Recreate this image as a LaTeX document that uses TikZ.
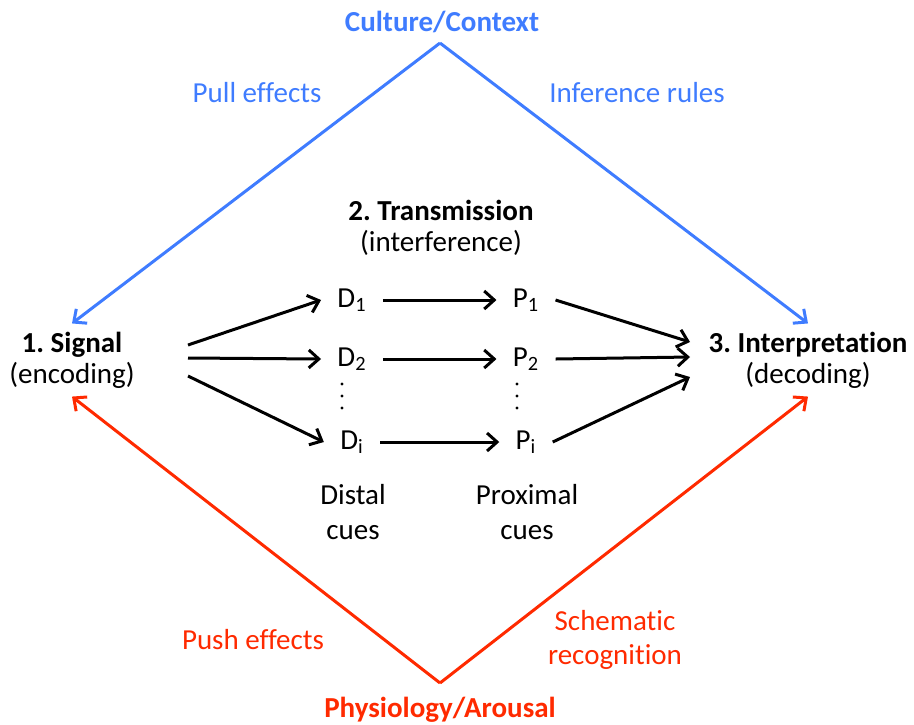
\documentclass[tikz,border=0pt]{standalone}
\usepackage{fontspec}
\setmainfont{Carlito}[Ligatures=NoCommon]
\usetikzlibrary{positioning,arrows.meta,calc}
\definecolor{CtxBlue}{HTML}{3F7CFF}
\definecolor{PhyRed}{HTML}{FF2A00}
\frenchspacing

\begin{document}
\begin{tikzpicture}[
    x=0.5pt, y=-0.5pt,
    font=\fontsize{14.5}{15.5}\selectfont,
    stage/.style={
      align=center,
      inner sep=4pt
    },
    cue/.style={
      inner xsep=8pt,
      inner ysep=1pt
    },
    ctxlabel/.style={
      text=CtxBlue
    },
    phylabel/.style={
      text=PhyRed,
      align=center,
      font=\fontsize{14.5}{17}\selectfont
    },
    cuearrow/.style={
      -{Straight Barb[length=5pt,width=9pt]},
      line width=1.5pt,
      black
    },
    ctxarrow/.style={
      -{Straight Barb[length=5pt,width=9pt]},
      line width=1.5pt,
      CtxBlue
    },
    phyarrow/.style={
      -{Straight Barb[length=5pt,width=9pt]},
      line width=1.5pt,
      PhyRed
    }
  ]
  \useasboundingbox (0,0) rectangle (914,724);

  % Ecken
  \node[ctxlabel, font=\fontsize{14.5}{15.5}\selectfont\bfseries] (culture) at (442,22) {Culture/Context};
  \node[phylabel, font=\fontsize{14.5}{15.5}\selectfont\bfseries] (physio) at (440,710) {Physiology/Arousal};
  \coordinate (cultTop) at (440,43);
  \coordinate (physBot) at (440,683);

  % Stufen
  \node[stage] (signal) at (72,360) {\textbf{1. Signal}\\(encoding)};
  \node[stage] (interp) at (808,360) {\textbf{3. Interpretation}\\(decoding)};
  \node[stage] (trans) at (441,228) {\textbf{2. Transmission}\\(interference)};

  % Cues
  \node[cue] (d1) at (352,300) {D\textsubscript{1}};
  \node[cue] (d2) at (352,359) {D\textsubscript{2}};
  \node[cue] (di) at (352,442) {D\textsubscript{i}};
  \node[cue] (p1) at (526,300) {P\textsubscript{1}};
  \node[cue] (p2) at (526,359) {P\textsubscript{2}};
  \node[cue] (pi) at (526,442) {P\textsubscript{i}};
  \foreach \dy in {0,12,24} {
    \fill (342,384+\dy) circle (0.8pt);
    \fill (517,384+\dy) circle (0.8pt);
  }

  \node[align=center, font=\fontsize{14.5}{17.5}\selectfont] (distal) at (353,512) {Distal\\cues};
  \node[align=center, font=\fontsize{14.5}{17.5}\selectfont] (proximal) at (527,512) {Proximal\\cues};

  % Beschriftung der Kanten
  \node[ctxlabel] (pull) at (257,93) {Pull effects};
  \node[ctxlabel] (infer) at (637,93) {Inference rules};
  \node[phylabel] (push) at (253,640) {Push effects};
  \node[phylabel] (schema) at (615,640) {Schematic\\recognition};

  % Auffaecherung
  \coordinate (sigA) at (188,345);
  \coordinate (sigB) at (188,358);
  \coordinate (sigC) at (188,376);
  \coordinate (intA) at (690,342);
  \coordinate (intB) at (690,357);
  \coordinate (intC) at (690,377);

  \draw[cuearrow] (sigA) -- (d1.west);
  \draw[cuearrow] (sigB) -- (d2.west);
  \draw[cuearrow] (sigC) -- (di.west);
  \draw[cuearrow] (d1) -- (p1);
  \draw[cuearrow] (d2) -- (p2);
  \draw[cuearrow] (di) -- (pi);
  \draw[cuearrow] (p1.east) -- (intA);
  \draw[cuearrow] (p2.east) -- (intB);
  \draw[cuearrow] (pi.east) -- (intC);

  % Rahmen oben und unten
  \draw[ctxarrow] (cultTop) -- (signal.north);
  \draw[ctxarrow] (cultTop) -- (interp.north);
  \draw[phyarrow] (physBot) -- (signal.south);
  \draw[phyarrow] (physBot) -- (interp.south);

\end{tikzpicture}
\end{document}
